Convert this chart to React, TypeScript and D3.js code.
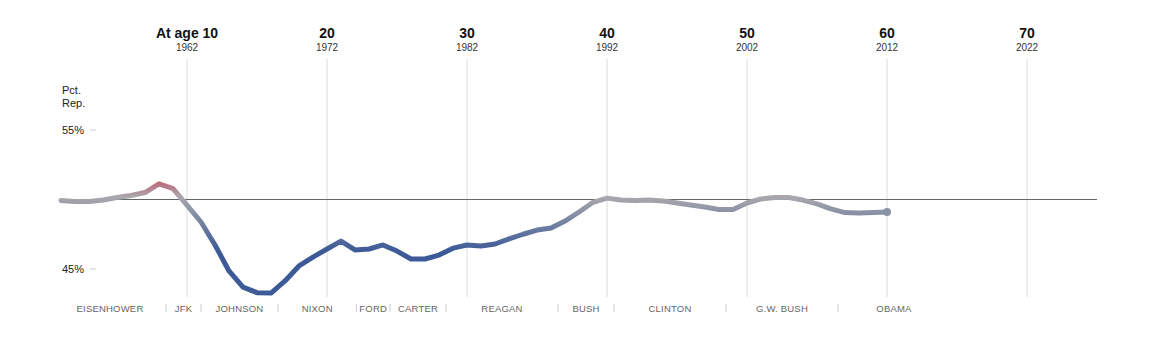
import * as d3 from "d3";

// Share of the generation leaning Republican, one value per year (born 1952)
const years = d3.range(1953, 2013);
const pctRep = [
  49.93, 49.86, 49.86, 49.96, 50.14, 50.29, 50.5, 51.12, 50.79, 49.6,
  48.38, 46.73, 44.86, 43.7, 43.3, 43.27, 44.14, 45.22, 45.86, 46.44,
  47.01, 46.37, 46.44, 46.73, 46.29, 45.72, 45.72, 46.0, 46.5, 46.73,
  46.65, 46.8, 47.16, 47.5, 47.8, 47.95, 48.45, 49.1, 49.8, 50.1,
  49.96, 49.93, 49.96, 49.9, 49.75, 49.6, 49.46, 49.28, 49.28, 49.75,
  50.04, 50.14, 50.14, 49.96, 49.68, 49.32, 49.06, 49.03, 49.06, 49.1,
];

const birthYear = 1952;
const ages = [10, 20, 30, 40, 50, 60, 70];

const presidents = ["EISENHOWER", "JFK", "JOHNSON", "NIXON", "FORD", "CARTER", "REAGAN", "BUSH", "CLINTON", "G.W. BUSH", "OBAMA"];
const termStarts = [1953, 1961, 1963.5, 1969, 1974.6, 1977, 1981, 1989, 1993, 2001, 2009, 2017];

const yTicks = [55, 45];

const FONT = "'Liberation Sans', Arial, sans-serif";

export default function App() {
  const x = d3.scaleLinear().domain([1962, 2022]).range([187, 1027]);
  const y = d3.scaleLinear().domain([45, 55]).range([269, 130]);

  const data = years.map((yr, i) => ({ yr, v: pctRep[i] }));
  const line = d3.line<{ yr: number; v: number }>()
    .x(d => x(d.yr))
    .y(d => y(d.v));

  const color = d3.scaleLinear<string>()
    .domain([46.3, 50.2, 51.3])
    .range(["#3d5a98", "#aaa8ac", "#be6475"])
    .clamp(true);
  const gradStops = [46.3, 47.5, 48.7, 49.5, 50.2, 50.6, 51, 51.3];
  const gTop = 51.3, gBot = 46.3;

  const last = data[data.length - 1];
  const termX = (t: number) => x(t - 0.5);

  return (
    <svg width={1163} height={350} style={{ position: "absolute", left: 0, top: 0, background: "#fff" }}>
      <defs>
        <linearGradient id="partyGrad" gradientUnits="userSpaceOnUse" x1={0} x2={0} y1={y(gTop)} y2={y(gBot)}>
          {gradStops.slice().reverse().map(v => (
            <stop key={v} offset={(gTop - v) / (gTop - gBot)} stopColor={color(v)} />
          ))}
        </linearGradient>
      </defs>

      {/* age / year columns */}
      {ages.map((a, i) => (
        <g key={a} fontFamily={FONT} textAnchor="middle">
          <line x1={x(birthYear + a)} x2={x(birthYear + a)} y1={59} y2={297} stroke="#dcdcdc" strokeWidth={1} />
          <text x={x(birthYear + a)} y={38} fontSize={14} fontWeight="bold" fill="#111">
            {i === 0 ? `At age ${a}` : a}
          </text>
          <text x={x(birthYear + a)} y={51} fontSize={10} fill="#333">{birthYear + a}</text>
        </g>
      ))}

      {/* y labels */}
      <text x={62} y={94} fontFamily={FONT} fontSize={11} fill="#222">Pct.</text>
      <text x={62} y={107} fontFamily={FONT} fontSize={11} fill="#222">Rep.</text>
      {yTicks.map(t => (
        <g key={t}>
          <text x={62} y={y(t) + 4} fontFamily={FONT} fontSize={11} fill="#222">{t}%</text>
          <line x1={90} x2={96} y1={y(t)} y2={y(t)} stroke="#ccc" />
        </g>
      ))}

      {/* 50% baseline */}
      <line x1={62} x2={1097} y1={y(50)} y2={y(50)} stroke="#666" strokeWidth={1} />

      <path d={line(data) ?? ""} fill="none" stroke="url(#partyGrad)" strokeWidth={5} strokeLinejoin="round" strokeLinecap="round" />
      <circle cx={x(last.yr)} cy={y(last.v)} r={4} fill={color(last.v)} />

      {/* presidencies */}
      {presidents.map((p, i) => {
        const x0 = termX(termStarts[i]);
        const x1 = termX(termStarts[i + 1]);
        return (
          <g key={p} fontFamily={FONT}>
            {i > 0 && <line x1={x0} x2={x0} y1={304} y2={312} stroke="#ccc" strokeWidth={1} />}
            <text x={(x0 + x1) / 2} y={312} textAnchor="middle" fontSize={9.5} fill="#666" letterSpacing={0.2}>{p}</text>
          </g>
        );
      })}
    </svg>
  );
}
